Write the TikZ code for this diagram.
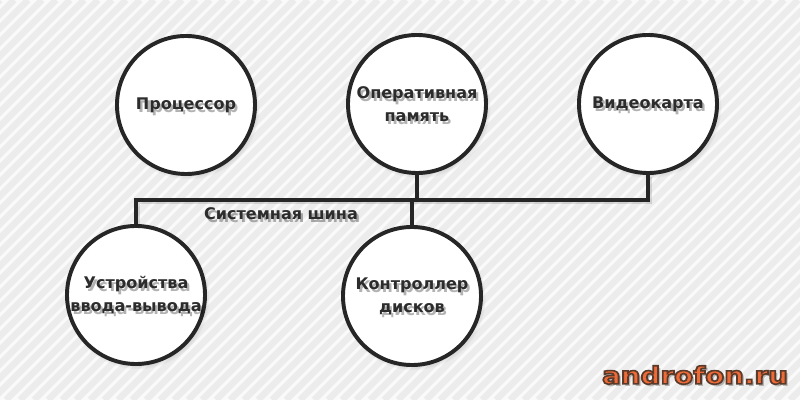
\documentclass[tikz,border=0pt]{standalone}
\usepackage{fontspec}
\setmainfont{DejaVu Sans}
\usetikzlibrary{shadows}

\definecolor{linegray}{HTML}{262626}
\definecolor{txtgray}{HTML}{2C2C2C}
\definecolor{stripegray}{HTML}{ECECEC}
\definecolor{bgwhite}{HTML}{FAFAFA}
\definecolor{sitered}{HTML}{EE6A36}

% outlined text (fill + stroke)
\newcommand\outlinedtext[1]{\special{pdf:literal direct 2 Tr 1.1 w 0.353 0.227 0.165 RG}#1\special{pdf:literal direct 0 Tr}}

\tikzset{
  unit/.style={circle, draw=linegray, line width=2.8pt, fill=white,
    minimum size=3.45cm, inner sep=0pt,
    circular drop shadow={shadow scale=1.04, shadow xshift=1.2pt,
      shadow yshift=-1.8pt, opacity=0.45}},
  bus/.style={draw=linegray, line width=2.8pt},
  busshadow/.style={draw=black, line width=3pt, opacity=0.12},
  lbl/.style={font=\bfseries\fontsize{11.4}{16.4}\selectfont, text=txtgray,
    align=center, inner sep=0pt},
  lblshadow/.style={lbl, text=black, opacity=0.3},
  stripe/.style={draw=stripegray, line width=4.6},
  site/.style={font=\bfseries\fontsize{17}{20}\selectfont, xscale=1.16,
    inner sep=0pt}
}

\begin{document}
\begin{tikzpicture}[x=0.025cm, y=0.025cm]
% background with light stripes
\fill[bgwhite] (0,0) rectangle (800,400);
\useasboundingbox (0,0) rectangle (800,400);
\begin{scope}
\clip (0,0) rectangle (800,400);
\foreach \i in {-400,-386,...,800}
  \draw[stripe] (\i,0) -- ++(400,400);
\end{scope}

% units
\node[unit] (proc) at (186,295) {};
\node[unit] (ram) at (417,296) {};
\node[unit] (video) at (648,296) {};
\node[unit] (io) at (136,105) {};
\node[unit] (disk) at (412,104) {};

% system bus
\coordinate (bus) at (138,200);
\draw[busshadow] ([shift={(1.5,-2)}]io.north) -- ([shift={(1.5,-2)}]io.north |- bus)
  -- ([shift={(1.5,-2)}]video.south |- bus) -- ([shift={(1.5,-2)}]video.south);
\draw[bus] (io.north) -- (io.north |- bus) -- (video.south |- bus) -- (video.south);
\draw[bus] (ram.south) -- (ram.south |- bus);
\draw[bus] (disk.north) -- (disk.north |- bus);

% labels with soft shadow
\foreach \n/\t in {proc/{Процессор}, ram/{Оперативная\\память},
    video/{Видеокарта}, io/{Устройства\\ввода-вывода},
    disk/{Контроллер\\дисков}} {
  \node[lblshadow] (\n-sh) at ([shift={(1.6pt,-2.2pt)}]\n) {\t};
  \node[lbl] (\n-txt) at (\n) {\t};
}

\coordinate (buslbl) at (281,186);
\node[lblshadow] (bus-sh) at ([shift={(1.6pt,-2.2pt)}]buslbl) {Системная шина};
\node[lbl] (bus-txt) at (buslbl) {Системная шина};

% site mark
\coordinate (sitepos) at (695,25);
\node[site, text=black, opacity=0.25] (site-sh) at ([shift={(1.6pt,-1.8pt)}]sitepos) {androfon.ru};
\node[site, text=sitered] (site-txt) at (sitepos) {\outlinedtext{androfon.ru}};
\end{tikzpicture}
\end{document}
